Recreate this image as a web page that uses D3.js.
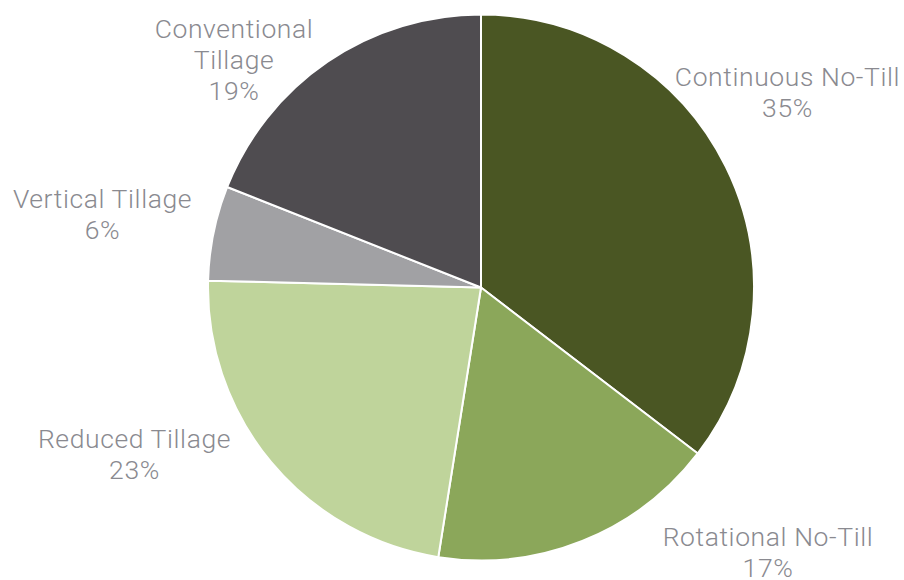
<!DOCTYPE html>
<html>
<head>
<meta charset="utf-8">
<script src="https://cdn.jsdelivr.net/npm/d3@7"></script>
<style>
  html, body { margin: 0; padding: 0; background: #fff; }
  svg { display: block; }
  text { font-family: Roboto, "Open Sans", sans-serif; font-weight: 300; fill: #8a8a90; }
</style>
</head>
<body>
<svg id="chart" width="904" height="580"></svg>
<script>
// Data
const categories = ["Continuous No-Till", "Rotational No-Till", "Reduced Tillage", "Vertical Tillage", "Conventional Tillage"];
const values = [35.4, 17.1, 22.9, 5.6, 19.0];
const percentLabels = ["35%", "17%", "23%", "6%", "19%"];
const labelLines = [["Continuous No-Till"], ["Rotational No-Till"], ["Reduced Tillage"], ["Vertical Tillage"], ["Conventional", "Tillage"]];

// Styling / layout (kept separate from data)
const colors = ["#4a5623", "#8ba75a", "#bfd49b", "#a1a1a4", "#4f4c50"];
const width = 904, height = 580;
const cx = 481, cy = 287.5, radius = 273;
// label anchors relative to pie centre (dx, dy of first baseline)
const labelOffsets = [[306.5, -201.5], [287, 258], [-346.5, 160.5], [-378.5, -79.5], [-247, -249.5]];
const lineHeight = 31;

const svg = d3.select("#chart");
const g = svg.append("g").attr("transform", `translate(${cx},${cy})`);

const pie = d3.pie().sort(null).value(d => d.value);
const arc = d3.arc().innerRadius(0).outerRadius(radius);

const data = categories.map((c, i) => ({ name: c, value: values[i], idx: i }));

g.selectAll("path")
  .data(pie(data))
  .join("path")
  .attr("d", arc)
  .attr("fill", d => colors[d.data.idx])
  .attr("stroke", "#ffffff")
  .attr("stroke-width", 2)
  .attr("stroke-linejoin", "round");

const labels = g.selectAll("text.lbl")
  .data(data)
  .join("text")
  .attr("class", "lbl")
  .attr("text-anchor", "middle")
  .attr("font-size", 26.5)
  .attr("letter-spacing", 0.6)
  .attr("x", d => labelOffsets[d.idx][0])
  .attr("y", d => labelOffsets[d.idx][1]);

labels.each(function(d) {
  const t = d3.select(this);
  const lines = labelLines[d.idx].concat([percentLabels[d.idx]]);
  lines.forEach((ln, j) => {
    t.append("tspan")
      .attr("x", labelOffsets[d.idx][0])
      .attr("dy", j === 0 ? 0 : lineHeight)
      .text(ln);
  });
});
</script>
</body>
</html>
